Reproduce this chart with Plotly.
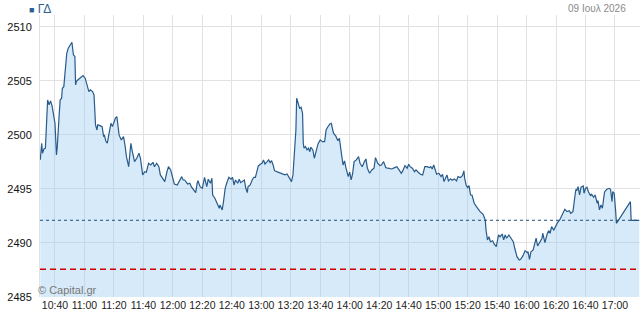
import plotly.graph_objects as go

DAY = "2026-07-09"
index_name = "ΓΔ"
date_label = "09 Ιουλ 2026"
source_label = "© Capital.gr"

times = [
 "10:30:00","10:31:00","10:31:30","10:32:30","10:33:30","10:35:00","10:36:00","10:37:00","10:38:00","10:39:00",
 "10:40:00","10:41:00","10:41:30","10:42:30","10:43:30","10:44:30","10:45:00","10:46:00","10:47:00","10:48:00",
 "10:49:00","10:50:00","10:51:30","10:52:30","10:53:30","10:54:00","10:54:30","10:55:30","10:57:00","10:58:00",
 "10:59:00","11:00:30","11:02:00","11:03:00","11:04:00","11:05:30","11:06:30","11:07:30","11:08:30","11:09:00",
 "11:10:30","11:12:00","11:13:00","11:13:30","11:14:30","11:15:30","11:16:30","11:17:30","11:18:00","11:19:00",
 "11:20:00","11:21:00","11:22:00","11:22:30","11:23:30","11:25:00","11:26:30","11:27:30","11:28:30","11:30:00",
 "11:31:30","11:32:30","11:34:00","11:35:30","11:37:00","11:38:00","11:39:30","11:41:00","11:42:00","11:43:30",
 "11:45:00","11:46:30","11:47:30","11:49:00","11:50:30","11:51:30","11:53:00","11:54:30","11:56:00","11:57:00",
 "11:58:30","12:00:00","12:01:00","12:03:00","12:06:00","12:07:00","12:08:00","12:10:00","12:11:30","12:12:30",
 "12:14:30","12:15:30","12:16:30","12:17:00","12:18:30","12:20:00","12:21:30","12:22:00","12:23:00","12:24:00",
 "12:25:30","12:26:30","12:27:00","12:28:30","12:30:00","12:31:30","12:32:00","12:33:30","12:34:30","12:35:30",
 "12:36:30","12:38:00","12:39:30","12:40:30","12:41:30","12:42:30","12:44:00","12:45:00","12:46:00","12:47:00",
 "12:48:30","12:49:30","12:50:30","12:51:00","12:52:30","12:54:00","12:55:00","12:56:00","12:57:00","12:58:00",
 "12:59:30","13:00:30","13:01:30","13:02:30","13:04:00","13:05:00","13:06:00","13:07:00","13:08:00","13:09:00",
 "13:10:30","13:12:30","13:14:00","13:16:00","13:17:30","13:19:00","13:19:30","13:20:30","13:21:30","13:22:30",
 "13:23:30","13:24:00","13:25:00","13:26:00","13:27:00","13:28:00","13:28:30","13:29:00","13:30:00","13:31:00",
 "13:32:00","13:33:00","13:33:30","13:35:00","13:36:00","13:37:30","13:38:30","13:40:00","13:41:30","13:43:00",
 "13:44:00","13:45:00","13:46:30","13:47:30","13:48:00","13:49:00","13:50:30","13:52:00","13:53:00","13:53:30",
 "13:54:30","13:55:30","13:56:30","13:57:30","13:58:00","13:59:00","14:00:00","14:01:00","14:02:00","14:03:00",
 "14:04:30","14:06:00","14:07:00","14:08:30","14:10:00","14:11:00","14:12:00","14:13:30","14:15:00","14:16:30",
 "14:17:30","14:19:00","14:20:30","14:21:30","14:23:00","14:24:30","14:26:00","14:28:30","14:30:30","14:32:00",
 "14:33:30","14:35:00","14:36:00","14:37:30","14:39:00","14:40:00","14:41:00","14:42:30","14:44:00","14:45:00",
 "14:46:30","14:48:00","14:49:30","14:51:00","14:52:30","14:54:00","14:55:00","14:56:00","14:57:00","14:58:00",
 "14:59:00","15:00:30","15:02:00","15:03:00","15:04:00","15:05:00","15:06:00","15:07:00","15:08:30","15:09:30",
 "15:11:00","15:12:30","15:13:30","15:15:00","15:16:30","15:17:30","15:18:00","15:19:00","15:20:00","15:21:00",
 "15:22:00","15:23:00","15:24:30","15:26:00","15:27:30","15:28:30","15:30:30","15:32:00","15:32:30","15:33:30",
 "15:34:30","15:35:30","15:37:00","15:38:00","15:39:30","15:41:00","15:42:00","15:43:30","15:44:30","15:45:30",
 "15:46:30","15:48:00","15:49:30","15:51:00","15:52:00","15:53:30","15:55:00","15:56:00","15:57:30","15:59:00",
 "16:00:30","16:01:00","16:02:00","16:03:00","16:04:30","16:05:30","16:06:30","16:07:30","16:09:00","16:10:30",
 "16:11:00","16:12:30","16:14:00","16:15:00","16:16:00","16:17:00","16:18:30","16:20:00","16:21:00","16:22:30",
 "16:23:30","16:24:30","16:26:00","16:27:30","16:29:00","16:30:00","16:31:30","16:32:30","16:33:30","16:34:00",
 "16:35:00","16:36:00","16:37:00","16:38:30","16:39:00","16:40:00","16:41:00","16:42:00","16:43:30","16:44:00",
 "16:45:30","16:46:30","16:48:00","16:48:30","16:49:30","16:50:30","16:51:30","16:52:30","16:53:00","16:54:30",
 "16:56:00","16:57:00","16:58:00","16:58:30","16:59:30","17:00:30","17:01:00","17:10:30","17:11:00","17:16:30",
]

values = [
 2497.69,2499.23,2498.31,2498.70,2498.77,2503.24,2502.78,2503.15,2502.71,2501.85,
 2501.08,2498.15,2498.77,2501.08,2503.24,2503.40,2504.32,2504.47,2506.32,2507.56,
 2508.03,2508.27,2508.58,2507.41,2507.25,2504.63,2504.94,2505.09,2505.25,2505.40,
 2505.49,2505.25,2504.32,2504.01,2504.17,2504.01,2503.70,2500.93,2500.46,2500.93,
 2500.86,2500.77,2499.84,2500.00,2499.44,2499.23,2500.00,2500.93,2501.08,2500.77,
 2501.23,2501.55,2501.69,2500.93,2500.00,2499.54,2499.84,2499.07,2497.99,2497.06,
 2499.23,2498.45,2497.53,2497.84,2498.31,2497.84,2496.30,2496.60,2496.55,2497.38,
 2497.22,2497.47,2497.06,2497.38,2497.06,2496.30,2495.99,2495.68,2496.60,2497.06,
 2496.76,2495.99,2495.46,2495.37,2496.14,2495.83,2495.83,2495.46,2495.53,2495.21,
 2494.91,2494.66,2495.53,2495.77,2495.21,2495.06,2496.08,2495.83,2495.21,2495.90,
 2495.53,2495.99,2494.44,2494.14,2493.68,2493.21,2493.52,2493.06,2493.98,2495.06,
 2495.53,2496.08,2495.90,2496.08,2495.37,2495.83,2495.53,2495.90,2495.58,2495.68,
 2495.83,2495.06,2494.66,2495.21,2495.37,2495.90,2496.08,2496.08,2496.76,2497.13,
 2497.31,2497.38,2497.69,2497.31,2497.53,2497.69,2497.44,2497.62,2497.22,2496.69,
 2496.60,2496.51,2496.45,2496.30,2496.39,2496.08,2495.90,2495.68,2496.30,2498.77,
 2500.46,2503.40,2502.94,2502.47,2502.56,2502.01,2499.23,2498.77,2498.92,2498.61,
 2498.77,2498.45,2498.86,2498.61,2497.84,2498.68,2499.17,2499.54,2499.38,2499.38,
 2500.46,2500.71,2501.02,2501.08,2500.62,2500.16,2499.91,2499.47,2499.69,2499.07,
 2498.15,2497.22,2497.59,2496.92,2496.67,2496.14,2496.55,2495.83,2496.45,2497.53,
 2497.69,2497.99,2497.38,2497.06,2497.53,2497.78,2496.92,2496.45,2496.76,2496.92,
 2497.90,2497.38,2497.16,2497.22,2497.53,2496.97,2496.92,2496.85,2496.97,2497.06,
 2496.76,2496.45,2496.67,2497.16,2496.92,2497.29,2497.06,2496.92,2496.60,2496.76,
 2496.55,2496.36,2496.30,2497.06,2497.06,2496.97,2497.06,2496.85,2497.22,2496.76,
 2496.36,2496.45,2496.14,2496.36,2495.68,2495.99,2496.30,2495.74,2495.93,2495.81,
 2495.93,2495.74,2496.14,2496.05,2496.23,2496.67,2495.99,2495.37,2495.12,2495.31,
 2494.44,2494.44,2493.68,2493.36,2493.06,2492.90,2492.66,2492.13,2491.20,2490.28,
 2490.58,2490.12,2490.21,2489.91,2489.66,2490.74,2490.58,2490.83,2490.28,2490.74,
 2490.44,2490.74,2490.44,2490.12,2489.51,2488.73,2488.43,2488.49,2488.80,2489.29,
 2489.10,2489.19,2488.49,2489.19,2489.35,2489.81,2490.44,2489.72,2490.12,2490.44,
 2490.90,2490.03,2490.83,2491.14,2490.90,2491.51,2491.20,2491.67,2491.88,2492.13,
 2492.44,2492.81,2493.12,2492.90,2492.99,2492.75,2492.90,2493.98,2494.97,2494.84,
 2495.21,2494.44,2495.16,2495.28,2494.60,2495.06,2495.16,2494.75,2494.35,2494.54,
 2494.23,2494.44,2493.68,2493.92,2493.06,2493.52,2493.21,2494.29,2494.75,2494.97,
 2495.06,2494.97,2493.82,2494.75,2494.60,2492.90,2491.82,2493.82,2492.10,2492.10,
]

last_price = 2492.10
prev_close = 2487.56

tick_labels = ["10:40","11:00","11:20","11:40","12:00","12:20","12:40","13:00","13:20","13:40",
               "14:00","14:20","14:40","15:00","15:20","15:40","16:00","16:20","16:40","17:00"]
y_ticks = [2485, 2490, 2495, 2500, 2505, 2510]
x_start, x_end = "10:29:50", "17:17:00"
y_min, y_max = 2485, 2511.1

xs = [f"{DAY} {t}" for t in times]

fig = go.Figure()
fig.add_trace(go.Scatter(
    x=xs, y=values, mode="lines",
    line=dict(color="#285b8a", width=1.2),
    fill="tozeroy", fillcolor="rgba(150,200,240,0.38)",
    hoverinfo="skip", showlegend=False,
))

fig.add_shape(type="line", xref="paper", x0=0, x1=1, yref="y", y0=last_price, y1=last_price,
              layer="above", line=dict(color="#1f4e79", width=1, dash="dot"))
fig.add_shape(type="line", xref="paper", x0=0, x1=1, yref="y", y0=prev_close, y1=prev_close,
              layer="above", line=dict(color="#d00000", width=1.5, dash="6px,4px"))

fig.add_annotation(xref="paper", yref="paper", x=-0.022, y=1.022, xanchor="left", yanchor="middle",
                   text=f"<span style='font-size:9px'>■</span> {index_name}", showarrow=False,
                   font=dict(family="Liberation Sans, Arial", size=12, color="#2c5f8f"))
fig.add_annotation(xref="paper", yref="paper", x=0.98, y=1.022, xanchor="right", yanchor="middle",
                   text=date_label, showarrow=False,
                   font=dict(family="Liberation Sans, Arial", size=10, color="#8a8a8a"))
fig.add_annotation(xref="paper", yref="paper", x=-0.007, y=0.025, xanchor="left", yanchor="middle",
                   text=source_label, showarrow=False,
                   font=dict(family="Liberation Sans, Arial", size=11, color="#777777"))

fig.update_layout(
    width=640, height=313,
    margin=dict(l=40, r=0, t=15, b=16),
    paper_bgcolor="white", plot_bgcolor="white",
    font=dict(family="Liberation Sans, Arial", size=10.5, color="#111111"),
    xaxis=dict(type="date", range=[f"{DAY} {x_start}", f"{DAY} {x_end}"],
               tickvals=[f"{DAY} {t}" for t in tick_labels], ticktext=tick_labels,
               showgrid=True, gridcolor="#e2e2e2", gridwidth=1,
               zeroline=False, showline=False, ticks="", ticklabelstandoff=0,
               tickfont=dict(size=10.5, color="#222222")),
    yaxis=dict(range=[y_min, y_max], tickvals=y_ticks, ticktext=[str(v) for v in y_ticks],
               showgrid=True, gridcolor="#e2e2e2", gridwidth=1,
               zeroline=False, showline=True, linecolor="#e2e2e2", linewidth=1,
               ticks="", ticklabelstandoff=5,
               tickfont=dict(size=11, color="#111111")),
)

fig.write_html("out.html")
